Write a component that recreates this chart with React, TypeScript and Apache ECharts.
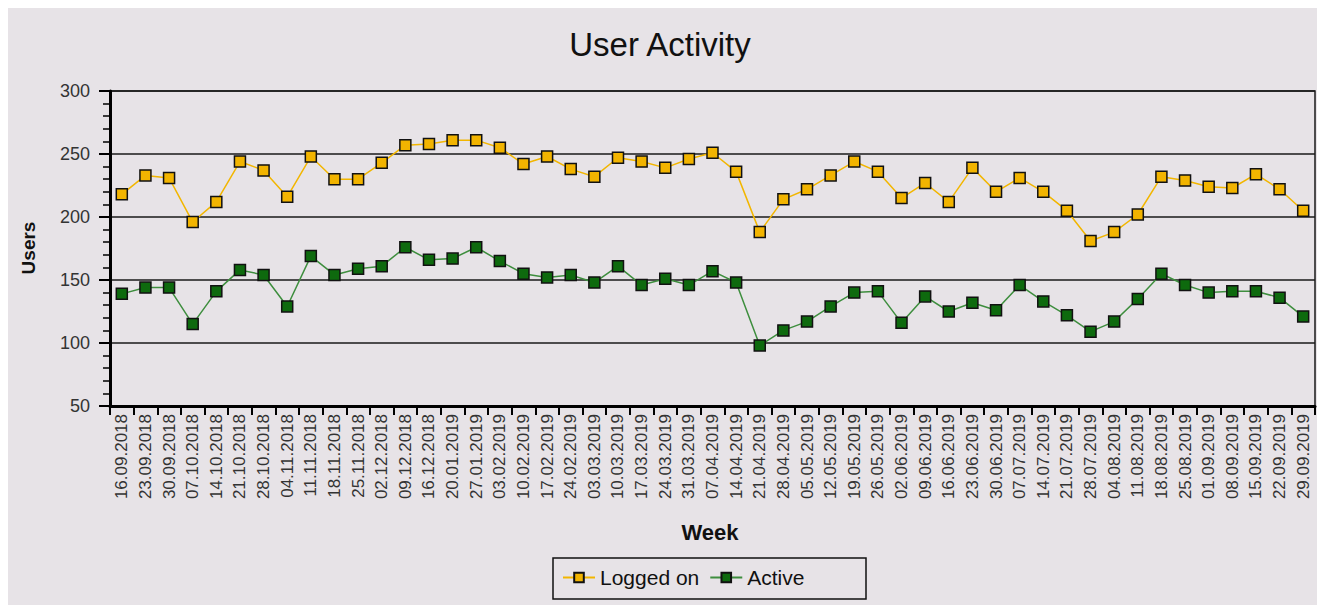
import React, { useEffect, useRef } from "react";
import * as echarts from "echarts";

const weeks = [
  "16.09.2018", "23.09.2018", "30.09.2018", "07.10.2018", "14.10.2018", "21.10.2018", "28.10.2018",
  "04.11.2018", "11.11.2018", "18.11.2018", "25.11.2018", "02.12.2018", "09.12.2018", "16.12.2018",
  "20.01.2019", "27.01.2019", "03.02.2019", "10.02.2019", "17.02.2019", "24.02.2019", "03.03.2019",
  "10.03.2019", "17.03.2019", "24.03.2019", "31.03.2019", "07.04.2019", "14.04.2019", "21.04.2019",
  "28.04.2019", "05.05.2019", "12.05.2019", "19.05.2019", "26.05.2019", "02.06.2019", "09.06.2019",
  "16.06.2019", "23.06.2019", "30.06.2019", "07.07.2019", "14.07.2019", "21.07.2019", "28.07.2019",
  "04.08.2019", "11.08.2019", "18.08.2019", "25.08.2019", "01.09.2019", "08.09.2019", "15.09.2019",
  "22.09.2019", "29.09.2019",
];

const loggedOn = [
  218, 233, 231, 196, 212, 244, 237, 216, 248, 230, 230, 243, 257, 258, 261, 261, 255,
  242, 248, 238, 232, 247, 244, 239, 246, 251, 236, 188, 214, 222, 233, 244, 236,
  215, 227, 212, 239, 220, 231, 220, 205, 181, 188, 202, 232, 229, 224, 223, 234, 222, 205,
];

const active = [
  139, 144, 144, 115, 141, 158, 154, 129, 169, 154, 159, 161, 176, 166, 167, 176, 165,
  155, 152, 154, 148, 161, 146, 151, 146, 157, 148, 98, 110, 117, 129, 140, 141,
  116, 137, 125, 132, 126, 146, 133, 122, 109, 117, 135, 155, 146, 140, 141, 141, 136, 121,
];

const yTicks = { min: 50, max: 300, interval: 50 };

export default function App() {
  const ref = useRef<HTMLDivElement>(null);

  useEffect(() => {
    if (!ref.current) return;
    const chart = echarts.init(ref.current, undefined, { renderer: "svg" });
    const font = "'Liberation Sans', Arial, sans-serif";
    chart.setOption({
      animation: false,
      backgroundColor: "#e7e3e7",
      textStyle: { fontFamily: font },
      grid: {
        left: 102,
        right: 10,
        top: 83,
        bottom: 199,
        show: true,
        borderColor: "#1a1a1a",
        borderWidth: 1.5,
        backgroundColor: "transparent",
      },
      legend: {
        left: 554,
        top: 559,
        padding: 0,
        itemWidth: 32,
        itemHeight: 12,
        itemGap: 10,
        textStyle: { fontSize: 21, color: "#111", fontFamily: font },
        data: ["Logged on", "Active"],
      },
      xAxis: {
        type: "category",
        data: weeks,
        boundaryGap: true,
        axisLine: { lineStyle: { color: "#000", width: 3 } },
        axisTick: { show: true, length: 9, lineStyle: { color: "#000", width: 2 } },
        axisLabel: { rotate: 90, fontSize: 17, color: "#333", margin: 8, interval: 0, fontFamily: font },
        splitLine: { show: false },
      },
      yAxis: {
        type: "value",
        min: yTicks.min,
        max: yTicks.max,
        interval: yTicks.interval,
        axisLine: { show: true, lineStyle: { color: "#000", width: 3 } },
        axisTick: { show: true, length: 11, lineStyle: { color: "#000", width: 2 } },
        minorTick: { show: true, splitNumber: 5, length: 7, lineStyle: { color: "#000", width: 1.5 } },
        axisLabel: { fontSize: 18, color: "#333", margin: 20, fontFamily: font },
        splitLine: { show: true, lineStyle: { color: "#1a1a1a", width: 1.5 } },
      },
      series: [
        {
          name: "Logged on",
          type: "line",
          data: loggedOn,
          symbol: "rect",
          symbolSize: 11,
          lineStyle: { color: "#f2b600", width: 1.5 },
          itemStyle: { color: "#f2b400", borderColor: "#111", borderWidth: 1.5 },
        },
        {
          name: "Active",
          type: "line",
          data: active,
          symbol: "rect",
          symbolSize: 11,
          lineStyle: { color: "#3e8e3e", width: 1.5 },
          itemStyle: { color: "#0e6a0e", borderColor: "#111", borderWidth: 1.5 },
        },
      ],
      graphic: [
        {
          type: "text",
          left: undefined,
          x: 652,
          y: 20,
          style: {
            text: "User Activity",
            fontSize: 33,
            fontFamily: font,
            fill: "#111",
            align: "center",
            verticalAlign: "top",
          },
        },
        {
          type: "text",
          x: 20,
          y: 240,
          rotation: Math.PI / 2,
          style: {
            text: "Users",
            fontSize: 19,
            fontWeight: "bold",
            fontFamily: font,
            fill: "#111",
            align: "center",
            verticalAlign: "middle",
          },
        },
        {
          type: "text",
          x: 702,
          y: 524,
          style: {
            text: "Week",
            fontSize: 22,
            fontWeight: "bold",
            fontFamily: font,
            fill: "#111",
            align: "center",
            verticalAlign: "middle",
          },
        },
        {
          type: "rect",
          shape: { x: 545, y: 550, width: 313, height: 41 },
          style: { fill: "none", stroke: "#111", lineWidth: 1.5 },
        },
      ],
    });
    return () => chart.dispose();
  }, []);

  return <div ref={ref} style={{ width: 1317, height: 597 }} />;
}
